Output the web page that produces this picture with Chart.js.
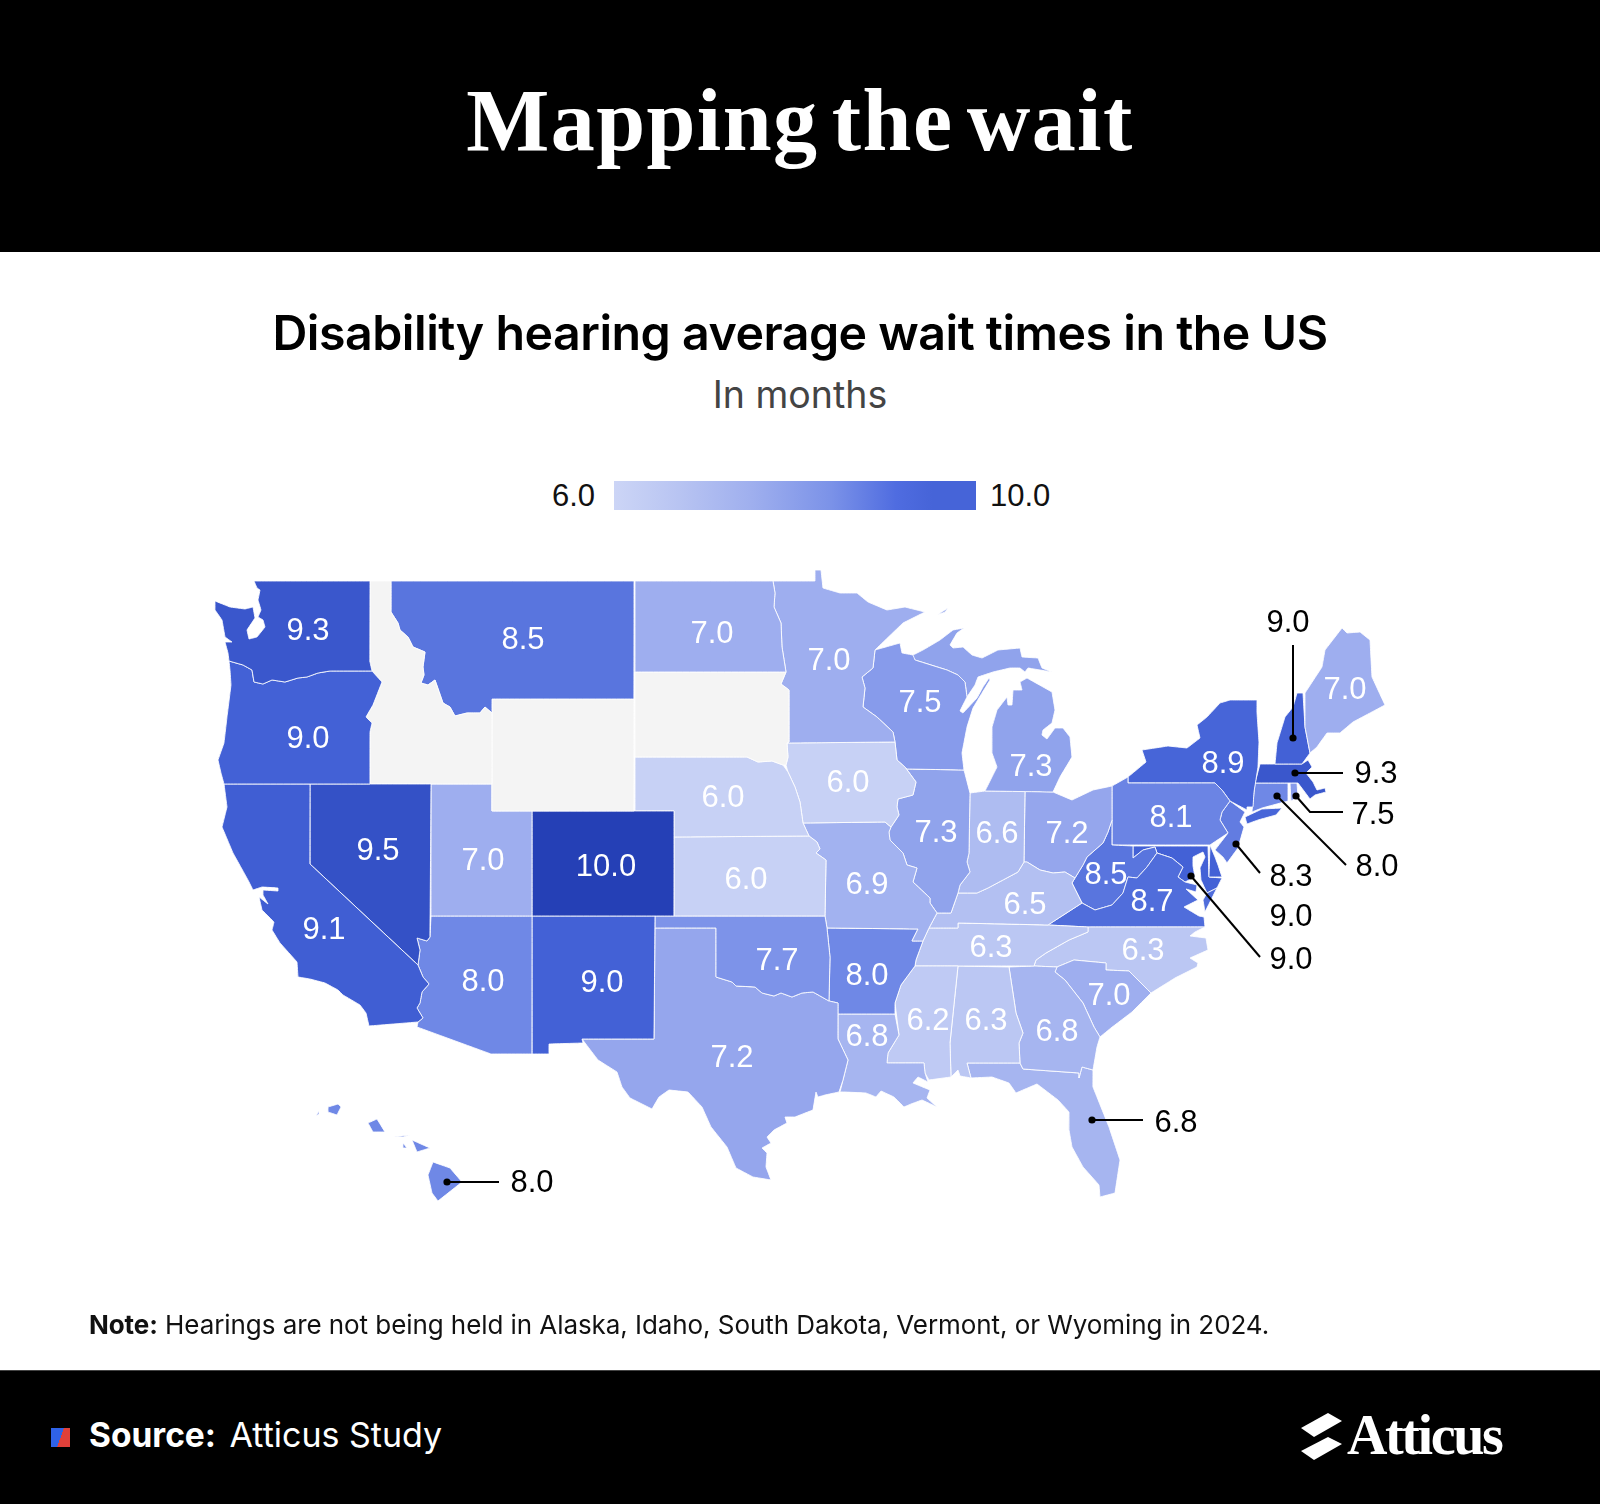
<!DOCTYPE html>
<html>
<head>
<meta charset="utf-8">
<title>Mapping the wait</title>
<script src="https://cdn.jsdelivr.net/npm/chart.js@4/dist/chart.umd.js"></script>
<style>
    html, body { margin: 0; padding: 0; background: #fff; }
    #page { position: relative; width: 1600px; height: 1504px; overflow: hidden; font-family: "Inter", sans-serif; }
    #page div, #page svg { position: absolute; white-space: nowrap; }
    #mapCanvas { position: absolute; left: 0; top: 0; }
    #topBand { left: 0; top: 0; width: 1600px; height: 252px; background: #000; }
    #bottomBand { left: 0; top: 1370px; width: 1600px; height: 134px; background: #000; border-top: 1px solid #444; box-sizing: border-box; }
    #title { left: 0; width: 1600px; top: 66px; text-align: center; color: #fff; font: bold 88px/110px "Liberation Serif", serif; letter-spacing: 1.4px; word-spacing: -10px; }
    #heading { left: 0; width: 1600px; top: 303px; text-align: center; color: #000; font: 600 48.3px/60px "Inter", sans-serif; letter-spacing: -0.5px; }
    #subheading { left: 0; width: 1600px; top: 372px; text-align: center; color: #444; font: 400 37.5px/46px "Inter", sans-serif; }
    #scaleBar { left: 614px; top: 481px; width: 362px; height: 29px; background: linear-gradient(to right, #ccd5f6 0%, #b8c4f2 18%, #9fafee 38%, #7b92e8 60%, #4f6ce0 78%, #4664d8 88%, #4664d8 100%); }
    .scaleText { top: 476px; font: 31px/40px "Liberation Sans", sans-serif; color: #111; }
    #note { left: 89px; top: 1308px; font: 400 26px/34px "Inter", sans-serif; color: #111; letter-spacing: -0.07px; }
    #note b { font-weight: 700; }
    #source { left: 89px; top: 1413px; font: 400 34px/44px "Inter", sans-serif; color: #fff; }
    #source b { font-weight: 700; font-size: 33.5px; margin-right: 4px; }
    #sourceMark { left: 51px; top: 1428px; width: 19px; height: 19px; background: linear-gradient(110deg, #2f62e8 50%, #e0403a 50%); }
    #logoText { left: 1347px; top: 1402px; color: #fff; font: bold 56px/66px "Liberation Serif", serif; letter-spacing: -2.4px; }
</style>
</head>
<body>
<div id="page">
    <div id="topBand"></div>
    <div id="title">Mapping the wait</div>
    <div id="heading">Disability hearing average wait times in the US</div>
    <div id="subheading">In months</div>
    <div class="scaleText" id="scaleMin" style="left:552px">6.0</div>
    <div id="scaleBar"></div>
    <div class="scaleText" id="scaleMax" style="left:990px">10.0</div>
    <canvas id="mapCanvas" width="1600" height="1504"></canvas>
    <div id="note"><b>Note:</b> Hearings are not being held in Alaska, Idaho, South Dakota, Vermont, or Wyoming in 2024.</div>
    <div id="bottomBand"></div>
    <div id="sourceMark"></div>
    <div id="source"><b>Source:</b> Atticus Study</div>
    <svg style="left:1300px;top:1412px" width="46" height="50" viewBox="0 0 46 50">
        <polygon points="1,16 28,1 42,9 14,25" fill="#fff"/>
        <polygon points="1,39 28,25 42,32 14,48" fill="#fff"/>
    </svg>
    <div id="logoText">Atticus</div>
</div>

<script>
// Temps d'attente par etat (mois), lus sur la carte. null = pas d'audience
const stateCodes = ['WA', 'OR', 'CA', 'NV', 'ID', 'MT', 'WY', 'UT', 'AZ', 'CO', 'NM', 'ND', 'SD', 'NE', 'KS', 'OK', 'TX',
    'MN', 'IA', 'MO', 'AR', 'LA', 'WI', 'IL', 'MS', 'MI', 'IN', 'KY', 'TN', 'AL', 'OH', 'GA', 'FL', 'SC', 'NC', 'VA', 'WV',
    'PA', 'NY', 'ME', 'NH', 'MA', 'RI', 'CT', 'NJ', 'DE', 'MD', 'HI'];
const waitMonths = [9.3, 9.0, 9.1, 9.5, null, 8.5, null, 7.0, 8.0, 10.0, 9.0, 7.0, null, 6.0, 6.0, 7.7, 7.2,
    7.0, 6.0, 6.9, 8.0, 6.8, 7.5, 7.3, 6.2, 7.3, 6.6, 6.5, 6.3, 6.3, 7.2, 6.8, 6.8, 7.0, 6.3, 8.7, 8.5,
    8.1, 8.9, 7.0, 9.0, 9.3, 7.5, 8.0, 8.3, 9.0, 9.0, 8.0];

// Etats etiquetes directement sur la carte
const labelCodes = ['WA', 'OR', 'CA', 'NV', 'MT', 'UT', 'AZ', 'CO', 'NM', 'ND', 'NE', 'KS', 'OK', 'TX', 'MN', 'IA', 'MO', 'AR',
    'LA', 'WI', 'IL', 'MS', 'MI', 'IN', 'KY', 'TN', 'AL', 'OH', 'GA', 'SC', 'NC', 'VA', 'WV', 'PA', 'NY', 'ME'];
const labelX = [308, 308, 324, 378, 523, 483, 483, 606, 602, 712, 723, 746, 777, 732, 829, 848, 867, 867,
    867, 920, 936, 928, 1031, 997, 1025, 991, 986, 1067, 1057, 1109, 1143, 1152, 1106, 1171, 1223, 1345];
const labelY = [629, 737, 928, 849, 638, 859, 980, 865, 981, 632, 796, 878, 959, 1056, 659, 781, 883, 974,
    1035, 701, 831, 1019, 765, 832, 903, 946, 1019, 832, 1030, 994, 949, 900, 873, 816, 762, 688];

// Renvois : [etat, point sur l'etat ... fin du trait], puis position du texte
const calloutCodes = ['NH', 'MA', 'RI', 'CT', 'NJ', 'DE', 'MD', 'FL', 'HI'];
const calloutLinesX = [[1293, 1293], [1295, 1343], [1296, 1310, 1343], [1277, 1346], [1236, 1260], [], [1191, 1260], [1092, 1143], [447, 499]];
const calloutLinesY = [[738, 645], [773, 773], [796, 812, 812], [796, 865], [844, 873], [], [876, 957], [1120, 1120], [1182, 1182]];
const calloutTextX = [1288, 1376, 1373, 1377, 1291, 1291, 1291, 1176, 532];
const calloutTextY = [621, 772, 813, 865, 875, 915, 958, 1121, 1181];

// Contours des etats, en unites de la carte (x, y, x, y, ...)
const WA_shape = [[254,581, 370,581, 370,662, 372,671, 330,671, 318,673, 307,677, 298,678, 285,682, 272,680, 263,684, 254,682, 252,670, 243,665, 229,661, 228,653, 225,642, 232,642, 225,637, 222,620, 215,610, 215,601, 230,607, 245,609, 253,607, 255,618, 247,630, 249,639, 257,637, 265,627, 263,620, 258,617, 261,610, 258,600, 260,590, 257,588]];
const OR_shape = [[229,661, 243,665, 252,670, 254,682, 263,684, 272,680, 285,682, 298,678, 307,677, 318,673, 330,671, 372,671, 382,682, 373,705, 366,717, 372,723, 370,732, 370,784, 224,784, 221,773, 218,760, 224,743, 227,717, 231,685, 230,670]];
const CA_shape = [[224,784, 310,784, 310,864, 418,965, 423,977, 429,984, 422,992, 420,1003, 417,1008, 423,1018, 418,1022, 369,1026, 366,1013, 360,1005, 343,995, 338,990, 325,983, 310,979, 298,977, 297,962, 280,943, 272,930, 274,922, 262,910, 259,897, 268,904, 263,895, 263,890, 278,891, 278,888, 262,887, 253,890, 248,880, 233,853, 222,827, 227,807]];
const NV_shape = [[310,784, 431,784, 430,937, 427,941, 417,938, 420,950, 418,965, 310,864]];
const ID_shape = [[370,581, 391,581, 391,612, 398,623, 400,630, 408,637, 413,647, 425,652, 423,667, 424,675, 421,683, 428,685, 435,680, 443,703, 450,707, 455,716, 467,713, 480,713, 485,707, 492,713, 492,784, 370,784, 370,732, 372,723, 366,717, 373,705, 382,682, 372,671, 370,662]];
const MT_shape = [[391,581, 634,581, 634,699, 492,699, 492,713, 485,707, 480,713, 467,713, 455,716, 450,707, 443,703, 435,680, 428,685, 421,683, 424,675, 423,667, 425,652, 413,647, 408,637, 400,630, 398,623, 391,612]];
const WY_shape = [[492,699, 634,699, 634,811, 492,811]];
const UT_shape = [[431,784, 492,784, 492,811, 532,811, 532,916, 431,916]];
const AZ_shape = [[431,916, 532,916, 532,1054, 491,1054, 417,1027, 418,1022, 423,1018, 417,1008, 420,1003, 422,992, 429,984, 423,977, 418,965, 420,950, 417,938, 427,941, 430,937]];
const CO_shape = [[532,811, 674,811, 674,916, 532,916]];
const NM_shape = [[532,916, 655,916, 654,1039, 582,1039, 583,1043, 549,1044, 549,1054, 532,1054]];
const ND_shape = [[635,581, 773,581, 775,593, 774,607, 781,623, 782,647, 786,672, 635,672]];
const SD_shape = [[635,672, 786,672, 781,684, 789,690, 789,742, 787,743, 788,757, 786,765, 783,765, 772,761, 758,762, 747,757, 635,757]];
const NE_shape = [[635,757, 747,757, 758,762, 772,761, 783,765, 788,772, 795,787, 800,802, 803,823, 809,836, 674,837, 674,811, 635,811]];
const KS_shape = [[674,837, 809,836, 817,842, 820,849, 816,853, 826,860, 825,916, 674,916]];
const OK_shape = [[655,916, 825,916, 827,928, 830,957, 829,1001, 813,992, 802,993, 792,997, 781,993, 774,996, 762,993, 755,987, 736,986, 732,982, 716,977, 716,928, 655,928]];
const TX_shape = [[655,928, 716,928, 716,977, 732,982, 736,986, 755,987, 762,993, 774,996, 781,993, 792,997, 802,993, 813,992, 829,1001, 838,1003, 838,1039, 848,1060, 843,1080, 839,1092, 825,1095, 818,1097, 816,1092, 813,1110, 795,1117, 785,1117, 787,1123, 774,1130, 767,1137, 771,1143, 762,1148, 767,1153, 766,1167, 771,1180, 753,1177, 736,1168, 727,1147, 711,1127, 702,1107, 688,1092, 669,1090, 659,1097, 652,1109, 630,1098, 622,1087, 617,1072, 598,1060, 582,1039, 654,1039]];
const MN_shape = [[773,581, 815,581, 815,570, 821,570, 823,588, 840,593, 857,593, 868,602, 887,610, 905,607, 925,612, 903,623, 875,650, 873,668, 862,677, 865,688, 863,707, 877,717, 893,732, 895,742, 787,743, 789,742, 789,690, 781,684, 786,672, 782,647, 781,623, 774,607, 775,593]];
const IA_shape = [[787,743, 895,742, 897,760, 905,767, 916,782, 913,795, 898,799, 897,807, 899,815, 891,827, 885,822, 803,823, 800,802, 795,787, 788,772, 786,765, 788,757]];
const MO_shape = [[803,823, 885,822, 891,827, 889,832, 890,840, 903,853, 907,865, 917,868, 913,882, 930,898, 930,903, 937,913, 929,928, 923,941, 912,941, 918,929, 827,928, 825,916, 826,860, 816,853, 820,849, 817,842, 809,836]];
const AR_shape = [[827,928, 918,929, 912,941, 923,941, 916,960, 915,966, 901,985, 895,1003, 895,1014, 838,1014, 838,1003, 829,1001, 830,957]];
const LA_shape = [[838,1014, 895,1014, 899,1035, 888,1053, 887,1063, 924,1063, 925,1073, 928,1082, 918,1077, 913,1083, 930,1090, 927,1098, 937,1107, 922,1100, 911,1104, 904,1107, 894,1097, 881,1091, 876,1097, 866,1093, 844,1092, 840,1092, 843,1080, 848,1060, 838,1039]];
const WI_shape = [[875,650, 900,643, 902,653, 913,655, 915,660, 947,670, 958,675, 965,682, 967,697, 960,711, 963,713, 977,698, 983,687, 989,678, 990,680, 982,693, 973,708, 967,727, 962,753, 964,770, 907,769, 897,760, 895,742, 893,732, 877,717, 863,707, 865,688, 862,677, 873,668]];
const IL_shape = [[907,769, 964,770, 970,793, 969,853, 967,862, 970,872, 960,885, 958,893, 951,913, 937,913, 930,903, 930,898, 913,882, 917,868, 907,865, 903,853, 890,840, 889,832, 891,827, 899,815, 897,807, 898,799, 913,795, 916,782, 905,767]];
const MS_shape = [[915,966, 958,966, 950,1043, 951,1077, 929,1080, 925,1073, 924,1063, 887,1063, 888,1053, 899,1035, 895,1003, 901,985]];
const MI_shape = [
    [902,653, 913,655, 923,650, 940,640, 953,630, 964,628, 957,633, 950,645, 953,648, 963,647, 972,655, 982,658, 998,650, 1020,648, 1022,657, 1038,658, 1042,668, 1052,672, 1028,668, 1025,672, 1020,668, 1010,668, 993,672, 978,677, 975,685, 967,697, 965,682, 958,675, 947,670, 915,660],
    [1027,678, 1052,692, 1055,710, 1052,723, 1043,730, 1042,735, 1047,739, 1055,728, 1063,728, 1070,737, 1072,757, 1060,777, 1053,792, 985,791, 997,767, 992,753, 992,727, 997,710, 1007,697, 1008,705, 1012,705, 1013,690, 1022,690, 1020,682],
    [937,615, 948,608, 945,612]
];
const IN_shape = [[970,793, 985,791, 1025,791, 1024,862, 1018,872, 1003,880, 988,888, 977,893, 958,893, 960,885, 970,872, 967,862, 969,853]];
const KY_shape = [[1024,862, 1027,862, 1040,870, 1053,873, 1065,872, 1075,878, 1072,883, 1082,903, 1048,925, 958,923, 958,928, 929,928, 937,913, 951,913, 958,893, 977,893, 988,888, 1003,880, 1018,872]];
const TN_shape = [[958,923, 1048,925, 1088,927, 1088,932, 1069,940, 1046,953, 1036,960, 1034,966, 915,966, 916,960, 923,941, 929,928, 958,928]];
const AL_shape = [[958,966, 1009,967, 1016,1013, 1023,1033, 1019,1043, 1020,1063, 967,1063, 971,1078, 960,1076, 958,1070, 951,1077, 950,1043]];
const OH_shape = [[1025,791, 1053,792, 1072,800, 1093,790, 1112,786, 1112,820, 1108,832, 1103,843, 1087,857, 1083,865, 1075,878, 1065,872, 1053,873, 1040,870, 1027,862, 1024,862]];
const GA_shape = [[1009,967, 1034,966, 1057,967, 1055,972, 1065,980, 1083,1003, 1094,1027, 1100,1037, 1097,1047, 1093,1070, 1082,1067, 1079,1078, 1079,1073, 1023,1069, 1020,1063, 1019,1043, 1023,1033, 1016,1013]];
const FL_shape = [[967,1063, 1020,1063, 1023,1069, 1079,1073, 1079,1078, 1082,1067, 1093,1070, 1093,1087, 1109,1127, 1120,1160, 1115,1193, 1100,1197, 1099,1185, 1083,1167, 1072,1147, 1069,1130, 1069,1112, 1058,1100, 1037,1084, 1016,1093, 1009,1083, 992,1077, 971,1078]];
const SC_shape = [[1057,967, 1074,960, 1106,963, 1106,970, 1129,971, 1151,993, 1132,1012, 1111,1028, 1100,1037, 1094,1027, 1083,1003, 1065,980, 1055,972]];
const NC_shape = [[1088,927, 1205,927, 1195,932, 1190,936, 1206,938, 1208,950, 1190,958, 1198,963, 1197,967, 1175,978, 1167,983, 1151,993, 1129,971, 1106,970, 1106,963, 1074,960, 1057,967, 1034,966, 1036,960, 1046,953, 1069,940, 1088,932]];
const VA_shape = [
    [1048,925, 1082,903, 1095,910, 1112,905, 1123,893, 1128,877, 1137,878, 1147,867, 1157,853, 1172,858, 1183,867, 1178,877, 1185,882, 1197,885, 1196,892, 1186,889, 1198,900, 1184,907, 1199,916, 1204,917, 1205,927, 1088,927],
    [1207,893, 1217,888, 1205,912, 1203,900]
];
const WV_shape = [[1112,820, 1112,845, 1133,846, 1133,858, 1143,850, 1155,847, 1157,853, 1147,867, 1137,878, 1128,877, 1123,893, 1112,905, 1095,910, 1082,903, 1072,883, 1075,878, 1083,865, 1087,857, 1103,843, 1108,832]];
const PA_shape = [[1112,786, 1128,777, 1128,783, 1215,783, 1222,790, 1230,801, 1222,812, 1220,820, 1228,833, 1210,845, 1112,845]];
const NY_shape = [
    [1128,783, 1128,777, 1146,762, 1142,750, 1168,746, 1187,748, 1200,738, 1197,725, 1207,717, 1220,703, 1230,700, 1257,700, 1257,713, 1259,742, 1258,767, 1254,792, 1253,807, 1247,807, 1247,810, 1230,801, 1222,790, 1215,783],
    [1245,817, 1262,809, 1282,808, 1276,815, 1258,820, 1247,824]
];
const ME_shape = [[1305,727, 1305,693, 1322,667, 1325,650, 1342,628, 1347,633, 1360,632, 1370,640, 1372,677, 1385,705, 1370,713, 1353,722, 1340,733, 1327,733, 1317,747, 1310,753]];
const NH_shape = [[1297,693, 1303,693, 1305,727, 1310,753, 1302,764, 1275,764, 1277,743, 1285,717, 1293,707]];
const MA_shape = [[1260,764, 1302,764, 1308,760, 1312,767, 1306,773, 1313,782, 1317,790, 1325,788, 1326,792, 1315,795, 1310,799, 1298,783, 1255,783]];
const RI_shape = [[1290,783, 1297,783, 1298,797, 1291,801]];
const CT_shape = [[1255,783, 1288,783, 1288,801, 1262,808, 1252,812]];
const NJ_shape = [[1230,801, 1245,812, 1240,822, 1244,827, 1238,848, 1227,863, 1223,857, 1215,850, 1228,833, 1220,820, 1222,812]];
const DE_shape = [[1210,845, 1209,877, 1222,877, 1218,865, 1215,857]];
const MD_shape = [[1133,846, 1208,846, 1209,877, 1222,878, 1217,888, 1207,893, 1201,880, 1200,868, 1205,857, 1203,852, 1193,857, 1193,866, 1195,877, 1185,882, 1178,877, 1183,867, 1172,858, 1157,853, 1155,847, 1143,850, 1133,858]];
const HI_shape = [
    [433,1162, 450,1168, 462,1182, 438,1201, 432,1193, 428,1175],
    [412,1140, 430,1148, 417,1152],
    [394,1137, 410,1135, 403,1137],
    [403,1143, 407,1148, 403,1148],
    [368,1123, 377,1119, 385,1132, 373,1132],
    [328,1107, 338,1104, 341,1107, 337,1115, 328,1112],
    [316,1116, 319,1111, 319,1114]
];
const stateShapes = { WA: WA_shape, OR: OR_shape, CA: CA_shape, NV: NV_shape, ID: ID_shape, MT: MT_shape, WY: WY_shape, UT: UT_shape, AZ: AZ_shape, CO: CO_shape, NM: NM_shape, ND: ND_shape, SD: SD_shape, NE: NE_shape, KS: KS_shape, OK: OK_shape, TX: TX_shape, MN: MN_shape, IA: IA_shape, MO: MO_shape, AR: AR_shape, LA: LA_shape, WI: WI_shape, IL: IL_shape, MS: MS_shape, MI: MI_shape, IN: IN_shape, KY: KY_shape, TN: TN_shape, AL: AL_shape, OH: OH_shape, GA: GA_shape, FL: FL_shape, SC: SC_shape, NC: NC_shape, VA: VA_shape, WV: WV_shape, PA: PA_shape, NY: NY_shape, ME: ME_shape, NH: NH_shape, MA: MA_shape, RI: RI_shape, CT: CT_shape, NJ: NJ_shape, DE: DE_shape, MD: MD_shape, HI: HI_shape };

const rampValues = [6.0, 7.0, 8.0, 9.0, 10.0];
const rampColors = [[199, 209, 245], [158, 174, 239], [111, 136, 230], [67, 97, 214], [37, 64, 182]];
const noDataColor = '#f4f4f4';

function waitColor(value) {
    if (value === null) return noDataColor;
    let i = 0;
    while (i < rampValues.length - 2 && value > rampValues[i + 1]) i++;
    const t = (value - rampValues[i]) / (rampValues[i + 1] - rampValues[i]);
    const c = rampColors[i].map((v, k) => Math.round(v + (rampColors[i + 1][k] - v) * t));
    return `rgb(${c[0]}, ${c[1]}, ${c[2]})`;
}

function ringToPoints(ring) {
    const points = [];
    for (let i = 0; i < ring.length; i += 2) {
        points.push({ x: ring[i], y: ring[i + 1] });
    }
    points.push({ x: ring[0], y: ring[1] });
    return points;
}

function buildStateDatasets() {
    const datasets = [];
    stateCodes.forEach((code, idx) => {
        stateShapes[code].forEach(ring => {
            datasets.push({
                label: code,
                data: ringToPoints(ring),
                showLine: true,
                fill: 'shape',
                backgroundColor: waitColor(waitMonths[idx]),
                borderColor: 'rgba(255, 255, 255, 0.85)',
                borderWidth: 1,
                borderJoinStyle: 'round',
                pointRadius: 0,
                // tension quasi nulle : evite le trace rapide qui fusionne les points d'une meme colonne
                tension: 0.0001
            });
        });
    });
    return datasets;
}

function buildCalloutDatasets() {
    const datasets = [];
    calloutCodes.forEach((code, idx) => {
        if (!calloutLinesX[idx].length) return;
        datasets.push({
            label: code + ' renvoi',
            data: calloutLinesX[idx].map((x, k) => ({ x: x, y: calloutLinesY[idx][k] })),
            showLine: true,
            fill: false,
            borderColor: '#000',
            borderWidth: 2,
            backgroundColor: '#000',
            pointRadius: ctx => (ctx.dataIndex === 0 ? 3.6 : 0),
            pointBorderWidth: 0,
            tension: 0.0001,
            order: -1 // au-dessus des etats
        });
    });
    return datasets;
}

const valueLabels = {
    id: 'valueLabels',
    afterDatasetsDraw(chart) {
        const { ctx, scales } = chart;
        ctx.save();
        ctx.textAlign = 'center';
        ctx.textBaseline = 'alphabetic';
        ctx.font = '31px "Liberation Sans", sans-serif';
        ctx.fillStyle = '#fff';
        labelCodes.forEach((code, i) => {
            const value = waitMonths[stateCodes.indexOf(code)];
            ctx.fillText(value.toFixed(1), scales.x.getPixelForValue(labelX[i]), scales.y.getPixelForValue(labelY[i]) + 11);
        });
        ctx.fillStyle = '#000';
        calloutCodes.forEach((code, i) => {
            const value = waitMonths[stateCodes.indexOf(code)];
            ctx.fillText(value.toFixed(1), scales.x.getPixelForValue(calloutTextX[i]), scales.y.getPixelForValue(calloutTextY[i]) + 11);
        });
        ctx.restore();
    }
};

new Chart(document.getElementById('mapCanvas'), {
    type: 'scatter',
    data: { datasets: buildStateDatasets().concat(buildCalloutDatasets()) },
    options: {
        responsive: false,
        animation: false,
        plugins: { legend: { display: false }, tooltip: { enabled: false } },
        layout: { padding: 0, autoPadding: false },
        scales: {
            x: { type: 'linear', min: 0, max: 1600, display: false },
            y: { type: 'linear', min: 0, max: 1504, reverse: true, display: false }
        }
    },
    plugins: [valueLabels]
});
</script>
</body>
</html>
